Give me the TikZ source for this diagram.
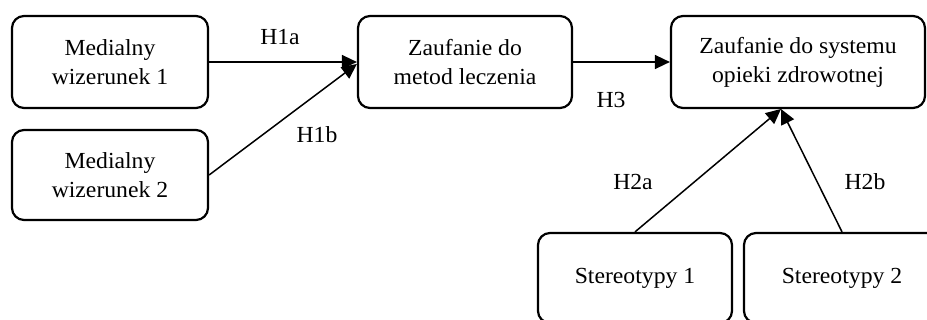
\documentclass[tikz,border=0pt]{standalone}
\usepackage{fontspec}
\setmainfont{Liberation Serif}[FakeStretch=1.03]
\usetikzlibrary{arrows.meta,calc}
\tikzset{
  box/.style={draw, line width=2.2pt, rounded corners=12pt, align=center, inner sep=0pt},
  conn/.style={line width=1.5pt, -{Triangle[length=15pt,width=14pt]}},
  lbl/.style={inner sep=0pt}
}
\begin{document}
\begin{tikzpicture}[x=1pt,y=-1pt, font=\fontsize{23}{29}\selectfont]
\useasboundingbox (0,0) rectangle (927,320);
\clip (0,0) rectangle (927,320);
\node[box, minimum width=196pt, minimum height=92pt] (m1) at (110,62) {Medialny\\wizerunek 1};
\node[box, minimum width=196pt, minimum height=90pt] (m2) at (110,175) {Medialny\\wizerunek 2};
\node[box, minimum width=214pt, minimum height=92pt] (z1) at (465,62) {Zaufanie do\\metod leczenia};
\node[box, minimum width=254pt, minimum height=92pt] (z2) at (798,62) {Zaufanie do systemu\\opieki zdrowotnej};
\node[box, minimum width=194pt, minimum height=90pt] (s1) at (635,278) {Stereotypy 1};
\node[box, minimum width=196pt, minimum height=90pt] (s2) at (842,278) {Stereotypy 2};
\coordinate (t2) at (781,109);
\draw[conn] (m1.east) -- (z1.west);
\draw[conn] (m2.east) -- ($(z1.west)+(0,2)$);
\draw[conn] (z1.east) -- (z2.west);
\draw[conn] (s1.north) -- (t2);
\draw[conn] (s2.north) -- (t2);
\node[lbl] (l1) at (280,37) {H1a};
\node[lbl] (l2) at (317,135) {H1b};
\node[lbl] (l3) at (611,100) {H3};
\node[lbl] (l4) at (633,182) {H2a};
\node[lbl] (l5) at (865,182) {H2b};
\end{tikzpicture}
\end{document}
